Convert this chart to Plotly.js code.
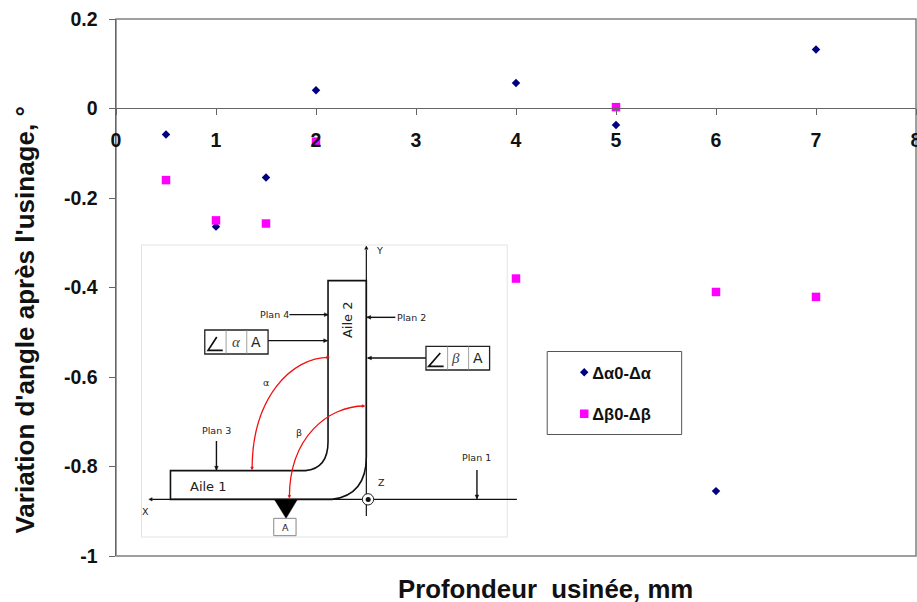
<!DOCTYPE html>
<html><head><meta charset="utf-8">
<script src="https://cdn.plot.ly/plotly-3.0.1.min.js"></script>
<style>html,body{margin:0;padding:0;background:#fff;overflow:hidden}</style>
</head><body><div id="chart" style="width:917px;height:602px"></div>
<script>
const depthAlpha = [0.5, 1, 1.5, 2, 4, 5, 6, 7];
const deltaAlpha = [-0.058, -0.264, -0.154, 0.041, 0.057, -0.037, -0.855, 0.132];
const depthBeta = [0.5, 1, 1.5, 2, 4, 5, 6, 7];
const deltaBeta = [-0.16, -0.25, -0.257, -0.074, -0.38, 0.003, -0.41, -0.421];
const xTicks = [0, 1, 2, 3, 4, 5, 6, 7, 8];
const xTickLabels = ['0', '1', '2', '3', '4', '5', '6', '7', '8'];
const yTicks = [-1, -0.8, -0.6, -0.4, -0.2, 0, 0.2];
const yTickLabels = ['-1', '-0.8', '-0.6', '-0.4', '-0.2', '0', '0.2'];
const nameAlpha = 'Δα0-Δα';
const nameBeta = 'Δβ0-Δβ';
const titleX = 'Profondeur  usinée, mm';
const titleY = "Variation d'angle après l'usinage, °";

const W = 917, H = 602, L = 115.5, T = 19, PW = 800.5, PH = 537;
const BOLD = '"Liberation Sans", Arial, sans-serif';
const DIA = '"DejaVu Sans", Verdana, sans-serif';
const px = v => (v - L) / PW, py = v => (T + PH - v) / PH;
// inset diagram coordinates: 3x scale local to the inset
const ix = v => px(135 + v / 3), iy = v => py(240 + v / 3);
const shapes = [], notes = [];
const pathOf = cmds => cmds.map(c => c[0] + c.slice(1).map((v, i) => (i % 2 ? iy(v) : ix(v)).toFixed(5)).join(' ')).join(' ');
const addPath = (cmds, color, width, fill) => shapes.push({type: 'path', xref: 'paper', yref: 'paper', path: pathOf(cmds), line: {color, width}, fillcolor: fill || 'rgba(0,0,0,0)', layer: 'above'});
const addLine = (a, b, c, d, color, width) => addPath([['M', a, b], ['L', c, d]], color || '#111', width || 1.4);
const head = (a, b, c, d, color, size) => {
  const len = Math.hypot(c - a, d - b), ux = (c - a) / len, uy = (d - b) / len, s = size || 11;
  addPath([['M', c, d], ['L', c - ux * s - uy * s * .5, d - uy * s + ux * s * .5], ['L', c - ux * s + uy * s * .5, d - uy * s - ux * s * .5], ['Z']], color || '#111', 0.5, color || '#111');
};
const arrow = (a, b, c, d) => { addLine(a, b, c, d); head(a, b, c, d); };
const label = (a, b, text, size, extra) => notes.push(Object.assign({xref: 'paper', yref: 'paper', x: ix(a), y: iy(b), text, showarrow: false, xanchor: 'center', yanchor: 'middle', font: {family: DIA, size: size || 9.5, color: '#222'}}, extra || {}));

// plot frame, inset box and legend box
shapes.push({type: 'rect', xref: 'paper', yref: 'paper', x0: 0, x1: 1, y0: 0, y1: 1, line: {color: '#808080', width: 1.5}, layer: 'below'});
shapes.push({type: 'rect', xref: 'paper', yref: 'paper', x0: px(141), x1: px(507), y0: py(537), y1: py(245), line: {color: '#e3e3e3', width: 1}, fillcolor: '#fff', layer: 'below'});
shapes.push({type: 'rect', xref: 'paper', yref: 'paper', x0: px(547), x1: px(681.5), y0: py(434.5), y1: py(351.5), line: {color: '#555', width: 1}, fillcolor: '#fff', layer: 'below'});

// part outline and reference axes
addPath([['M', 105, 692], ['L', 510, 692], ['Q', 578, 685, 578, 605], ['L', 578, 122], ['L', 693, 122], ['L', 693, 650], ['Q', 693, 765, 590, 778], ['L', 105, 778], ['Z']], '#111', 1.6);
addLine(693, 30, 693, 828, '#111', 1.2); head(693, 40, 693, 18, '#111', 10);
addLine(50, 778, 1145, 778, '#111', 1.2); head(60, 778, 40, 778, '#111', 10);
shapes.push({type: 'circle', xref: 'paper', yref: 'paper', x0: ix(681), x1: ix(715), y0: iy(795), y1: iy(761), line: {color: '#222', width: 1}, fillcolor: '#fff', layer: 'above'});
shapes.push({type: 'circle', xref: 'paper', yref: 'paper', x0: ix(691), x1: ix(706), y0: iy(786), y1: iy(771), line: {color: '#111', width: 0}, fillcolor: '#111', layer: 'above'});
addPath([['M', 418, 780], ['L', 485, 780], ['L', 452, 835], ['Z']], '#000', 0.5, '#000');
addPath([['M', 415, 835], ['L', 482, 835], ['L', 482, 887], ['L', 415, 887], ['Z']], '#888', 1);

arrow(462, 224, 578, 224);
arrow(780, 232, 695, 232);
arrow(398, 302, 576, 302);
arrow(872, 354, 697, 354);
arrow(243, 603, 243, 690);
arrow(1025, 690, 1025, 776);

// tolerance frames
[[208, 270, 398, 342, 272, 334], [872, 319, 1063, 390, 937, 1000]].forEach(f => {
  addPath([['M', f[0], f[1]], ['L', f[2], f[1]], ['L', f[2], f[3]], ['L', f[0], f[3]], ['Z']], '#222', 1.3);
  addLine(f[4], f[1], f[4], f[3], '#888', 0.8);
  addLine(f[5], f[1], f[5], f[3], '#888', 0.8);
});
addPath([['M', 244, 291], ['L', 218, 331], ['L', 262, 331]], '#111', 1.7);
addPath([['M', 915, 339], ['L', 880, 379], ['L', 925, 379]], '#111', 1.7);

// red angle arcs
addPath([['M', 580, 352], ['C', 470, 352, 350, 470, 350, 688]], '#f01010', 1.3);
head(570, 352, 582, 352, '#f01010', 8); head(350, 675, 350, 689, '#f01010', 8);
addPath([['M', 687, 498], ['C', 580, 498, 462, 590, 462, 772]], '#f01010', 1.3);
head(676, 498, 688, 498, '#f01010', 8); head(462, 760, 462, 774, '#f01010', 8);

label(418, 224, 'Plan 4');
label(830, 232, 'Plan 2');
label(244, 571, 'Plan 3');
label(1025, 652, 'Plan 1');
label(637, 238, 'Aile 2', 13, {textangle: -90});
label(218, 738, 'Aile 1', 13);
label(30, 815, 'X');
label(733, 30, 'Y');
label(738, 728, 'Z');
label(391, 426, 'α');
label(491, 578, 'β');
label(450, 862, 'A');
label(302, 307, '<i>α</i>', 14, {font: {family: '"Liberation Serif", serif', size: 15, color: '#444'}});
label(962, 355, '<i>β</i>', 14, {font: {family: '"Liberation Serif", serif', size: 15, color: '#444'}});
label(362, 305, 'A', 14);
label(1027, 355, 'A', 14);

// axis titles, placed as in the reference
notes.push({xref: 'paper', yref: 'paper', x: px(545), y: py(589), text: titleX.replace('  ', '\u00a0\u00a0'), showarrow: false, xanchor: 'center', yanchor: 'middle', font: {family: BOLD, size: 25.8, weight: 700, color: '#111'}});
notes.push({xref: 'paper', yref: 'paper', x: px(24), y: py(320), text: titleY, showarrow: false, textangle: -90, xanchor: 'center', yanchor: 'middle', font: {family: BOLD, size: 26, weight: 700, color: '#111'}});

const tickFont = {family: BOLD, size: 19.5, weight: 700, color: '#111'};
const data = [
  {type: 'scatter', mode: 'markers', name: nameAlpha, legendgroup: 'a', x: depthAlpha, y: deltaAlpha, marker: {symbol: 'diamond', size: 6.5, color: '#000080'}},
  {type: 'scatter', mode: 'markers', name: nameBeta, legendgroup: 'b', x: depthBeta, y: deltaBeta, marker: {symbol: 'square', size: 8.5, color: '#ff00ff'}}
];
const layout = {
  width: W, height: H, autosize: false,
  margin: {l: L, r: W - L - PW, t: T, b: H - T - PH, pad: 0},
  paper_bgcolor: '#fff', plot_bgcolor: '#fff',
  showlegend: true,
  legend: {x: px(552), y: py(355), xanchor: 'left', yanchor: 'top', bgcolor: 'rgba(0,0,0,0)', borderwidth: 0, traceorder: 'grouped', tracegroupgap: 17, itemwidth: 30, font: {family: BOLD, size: 16.5, weight: 700, color: '#111'}},
  xaxis: {range: [0, 8], anchor: 'free', position: (T + PH - 108.4) / PH, showgrid: false, zeroline: false, showline: true, linecolor: '#666', linewidth: 1, ticks: 'outside', ticklen: 6, tickcolor: '#666', tickmode: 'array', tickvals: xTicks, ticktext: xTickLabels, tickfont: tickFont, ticklabelstandoff: 8, ticklabeloverflow: 'allow'},
  yaxis: {range: [-1, 0.2], showgrid: false, zeroline: false, showline: true, linecolor: '#666', linewidth: 1.5, ticks: 'outside', ticklen: 6, tickcolor: '#666', tickmode: 'array', tickvals: yTicks, ticktext: yTickLabels, tickfont: tickFont, ticklabelstandoff: 7},
  shapes, annotations: notes
};
Plotly.newPlot('chart', data, layout, {displayModeBar: false, staticPlot: true}).then(() => {
  // bring the legend symbols close to their labels, as in the reference
  document.querySelectorAll('.legendsymbols').forEach(g => g.setAttribute('transform', 'translate(12,0)'));
});
</script></body></html>
